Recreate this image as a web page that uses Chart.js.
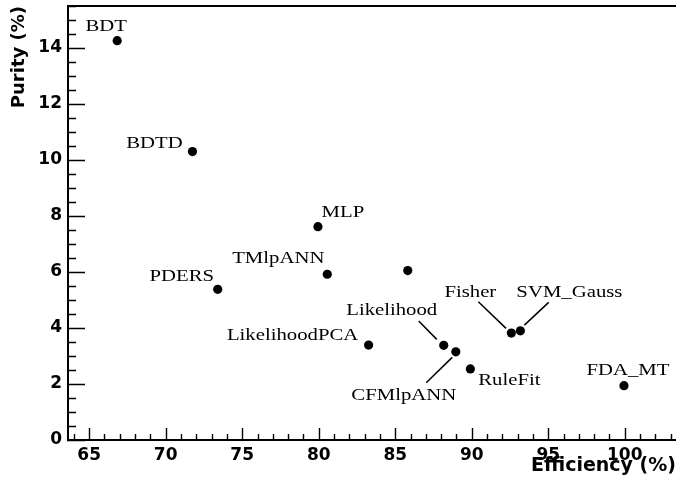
<!DOCTYPE html>
<html>
<head>
<meta charset="utf-8">
<script src="https://cdn.jsdelivr.net/npm/chart.js@4/dist/chart.umd.min.js"></script>
<style>
  html, body { margin: 0; padding: 0; background: #fff; }
  #wrap { width: 676px; height: 487px; }
</style>
</head>
<body>
<div id="wrap"><canvas id="c" width="676" height="487"></canvas></div>
<script>
// Classifier performance: signal efficiency vs. purity
const methods    = ['BDT', 'BDTD', 'MLP', 'TMlpANN', 'PDERS', '', 'LikelihoodPCA', 'Likelihood', 'CFMlpANN', 'RuleFit', 'Fisher', 'SVM_Gauss', 'FDA_MT'];
const efficiency = [66.83, 71.75, 79.95, 80.56, 73.40, 85.82, 83.26, 88.17, 88.96, 89.91, 92.59, 93.18, 99.95];
const purity     = [14.26, 10.30, 7.62, 5.92, 5.38, 6.05, 3.39, 3.38, 3.15, 2.54, 3.82, 3.90, 1.94];
const xTickValues = [65, 70, 75, 80, 85, 90, 95, 100];
const yTickValues = [0, 2, 4, 6, 8, 10, 12, 14];

// Label placement around each marker, in pixels (text centre offset, optional leader line)
const labelPlacement = {
  BDT:           { dx: -11, dy: -16 },
  BDTD:          { dx: -38, dy: -10 },
  MLP:           { dx: 25,  dy: -16 },
  TMlpANN:       { dx: -49, dy: -17 },
  PDERS:         { dx: -36, dy: -14 },
  LikelihoodPCA: { dx: -76, dy: -11 },
  Likelihood:    { dx: -52, dy: -36, line: [-25, -24.3, -7, -6] },
  CFMlpANN:      { dx: -52, dy: 42,  line: [-29.6, 31, -3.6, 5.6] },
  RuleFit:       { dx: 39,  dy: 10 },
  Fisher:        { dx: -41, dy: -42, line: [-33, -31.3, -5.3, -4.7] },
  SVM_Gauss:     { dx: 49,  dy: -40, line: [28.3, -28.4, 4, -5.7] },
  FDA_MT:        { dx: 4,   dy: -17 }
};

const LABEL_FONT = '17px "Liberation Serif", "Times New Roman", serif';
const LABEL_STRETCH = 1.22;

// Axis frame plus inward-pointing major/minor tick marks
const framePlugin = {
  id: 'frame',
  beforeDatasetsDraw(chart) {
    const { ctx, chartArea: a, scales: { x, y } } = chart;
    ctx.save();
    ctx.strokeStyle = '#000';
    ctx.lineWidth = 2;
    ctx.beginPath();
    ctx.moveTo(a.left + 1, a.top);
    ctx.lineTo(a.left + 1, a.bottom);
    ctx.moveTo(a.left, a.bottom);
    ctx.lineTo(a.right, a.bottom);
    ctx.moveTo(a.left, a.top);
    ctx.lineTo(a.right, a.top);
    ctx.stroke();

    ctx.lineWidth = 1.4;
    ctx.beginPath();
    // x ticks: major every 5, minor every 1
    for (let v = Math.ceil(x.min); v <= x.max; v++) {
      const px = Math.round(x.getPixelForValue(v)) + 0.5;
      const len = (v % 5 === 0) ? 12 : 6;
      ctx.moveTo(px, a.bottom);
      ctx.lineTo(px, a.bottom - len);
    }
    // y ticks: major every 2, minor every 0.5
    for (let k = 0; k * 0.5 <= y.max; k++) {
      const v = k * 0.5;
      const py = Math.round(y.getPixelForValue(v)) + 0.5;
      const len = (k % 4 === 0) ? 18 : 9;
      ctx.moveTo(a.left, py);
      ctx.lineTo(a.left + len, py);
    }
    ctx.stroke();
    ctx.restore();
  }
};

// Method names beside their markers, with leader lines where crowded
const labelPlugin = {
  id: 'methodLabels',
  afterDatasetsDraw(chart) {
    const { ctx } = chart;
    const meta = chart.getDatasetMeta(0);
    ctx.save();
    ctx.fillStyle = '#000';
    ctx.strokeStyle = '#000';
    ctx.lineWidth = 1.5;
    ctx.font = LABEL_FONT;
    ctx.textAlign = 'center';
    ctx.textBaseline = 'alphabetic';
    meta.data.forEach((pt, i) => {
      const name = methods[i];
      const place = labelPlacement[name];
      if (!name || !place) return;
      const px = pt.x, py = pt.y;
      if (place.line) {
        const [x1, y1, x2, y2] = place.line;
        ctx.beginPath();
        ctx.moveTo(px + x1, py + y1);
        ctx.lineTo(px + x2, py + y2);
        ctx.stroke();
      }
      ctx.save();
      ctx.translate(px + place.dx, py + place.dy + 6);
      ctx.scale(LABEL_STRETCH, 1);
      ctx.fillText(name, 0, 0);
      ctx.restore();
    });
    ctx.restore();
  }
};

// Fixed axis box sizes; no extra room reserved for overhanging tick labels
function fixBox(size, key) {
  return s => {
    s[key] = size;
    s.paddingTop = 0; s.paddingBottom = 0; s.paddingLeft = 0; s.paddingRight = 0;
  };
}

const tickFont = { family: 'DejaVu Sans', weight: 'bold', size: 17 };

new Chart(document.getElementById('c').getContext('2d'), {
  type: 'scatter',
  data: {
    datasets: [{
      data: efficiency.map((e, i) => ({ x: e, y: purity[i] })),
      backgroundColor: '#000',
      borderWidth: 0,
      pointRadius: 4.6,
      pointHoverRadius: 4.6,
      pointStyle: 'circle'
    }]
  },
  options: {
    responsive: false,
    animation: false,
    devicePixelRatio: 1,
    layout: { autoPadding: false, padding: { top: 6, left: 0, right: 0, bottom: 0 } },
    plugins: { legend: { display: false }, tooltip: { enabled: false } },
    scales: {
      x: {
        type: 'linear',
        min: 63.55,
        max: 103.35,
        grid: { display: false, drawTicks: false },
        border: { display: false },
        afterBuildTicks: s => { s.ticks = xTickValues.map(v => ({ value: v })); },
        afterFit: fixBox(47, 'height'),
        ticks: { font: tickFont, color: '#000', padding: 5, maxRotation: 0, autoSkip: false },
        title: {
          display: true, text: 'Efficiency (%)', align: 'end', color: '#000',
          font: { family: 'DejaVu Sans', weight: 'bold', size: 19 },
          padding: { top: 0, bottom: 10 }
        }
      },
      y: {
        type: 'linear',
        min: 0,
        max: 15.5,
        grid: { display: false, drawTicks: false },
        border: { display: false },
        afterBuildTicks: s => { s.ticks = yTickValues.map(v => ({ value: v })); },
        afterFit: fixBox(67, 'width'),
        ticks: { font: tickFont, color: '#000', padding: 5, autoSkip: false },
        title: {
          display: true, text: 'Purity (%)', align: 'end', color: '#000',
          font: { family: 'DejaVu Sans', weight: 'bold', size: 18 },
          padding: { top: 9, bottom: 0 }
        }
      }
    }
  },
  plugins: [framePlugin, labelPlugin]
});
</script>
</body>
</html>
